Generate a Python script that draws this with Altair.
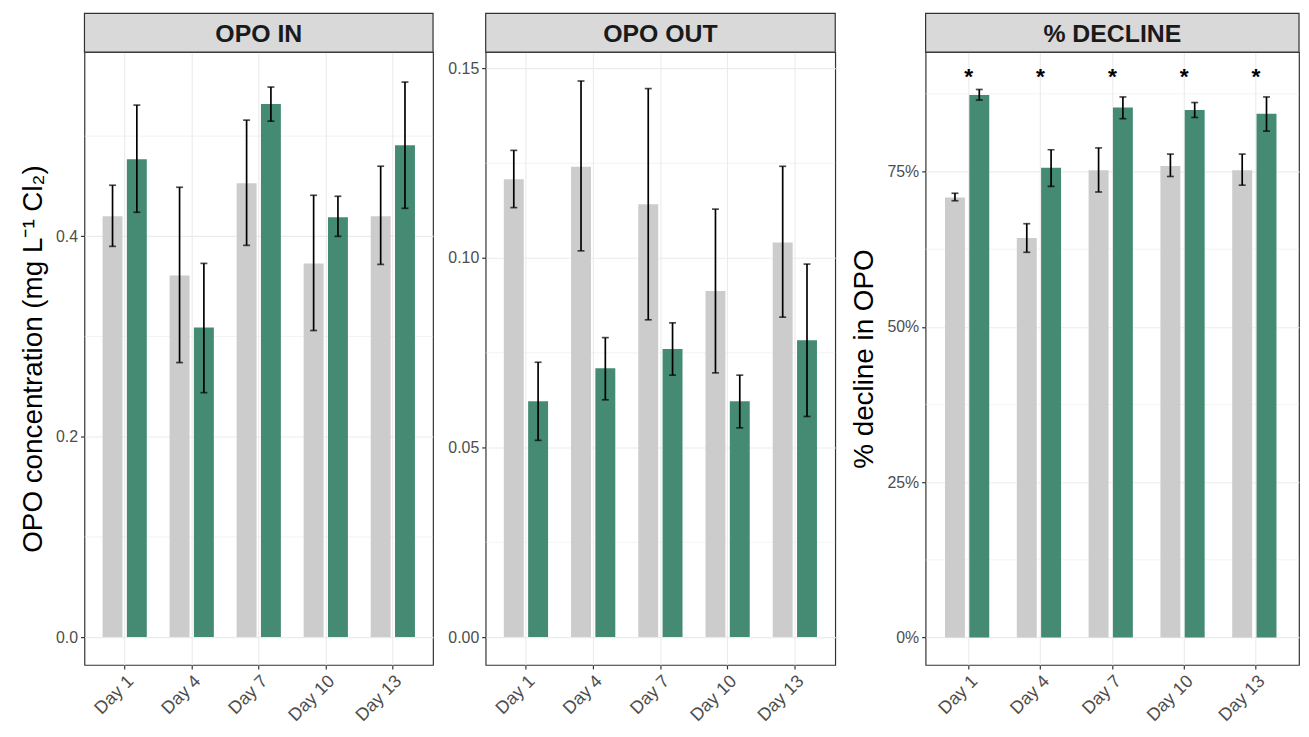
import altair as alt
import pandas as pd

days = ["Day 1", "Day 4", "Day 7", "Day 10", "Day 13"]
groups = ["Control", "Treated"]
group_colors = ["#CCCCCC", "#458B74"]

# OPO IN
in_mean_c = [0.420, 0.361, 0.453, 0.373, 0.420]
in_lo_c = [0.390, 0.274, 0.391, 0.306, 0.372]
in_hi_c = [0.451, 0.449, 0.516, 0.441, 0.470]
in_mean_t = [0.477, 0.309, 0.532, 0.419, 0.491]
in_lo_t = [0.424, 0.244, 0.515, 0.400, 0.428]
in_hi_t = [0.531, 0.373, 0.549, 0.440, 0.554]

# OPO OUT
out_mean_c = [0.1208, 0.1241, 0.1142, 0.0913, 0.1041]
out_lo_c = [0.1133, 0.1019, 0.0837, 0.0697, 0.0844]
out_hi_c = [0.1284, 0.1467, 0.1447, 0.1129, 0.1242]
out_mean_t = [0.0622, 0.0709, 0.0760, 0.0622, 0.0783]
out_lo_t = [0.0519, 0.0626, 0.0691, 0.0552, 0.0582]
out_hi_t = [0.0725, 0.0790, 0.0829, 0.0691, 0.0984]

# % DECLINE
dec_mean_c = [70.8, 64.3, 75.2, 75.9, 75.2]
dec_lo_c = [70.3, 62.0, 71.7, 74.2, 72.8]
dec_hi_c = [71.5, 66.6, 78.8, 77.8, 77.8]
dec_mean_t = [87.3, 75.6, 85.3, 84.9, 84.3]
dec_lo_t = [86.5, 72.6, 83.5, 83.7, 81.5]
dec_hi_t = [88.2, 78.5, 87.0, 86.1, 87.0]
star_labels = ["*", "*", "*", "*", "*"]
star_y = [90.6, 90.6, 90.6, 90.6, 90.6]

FONT = "Liberation Sans"
GRID = "#EBEBEB"
DARK = "#333333"
LABEL = "#4D4D4D"
STRIP_H = 39
PLOT_H = 617


def make_df(mc, lc, hc, mt, lt, ht):
    rows = []
    for i, d in enumerate(days):
        rows.append({"day": d, "group": groups[0], "mean": mc[i], "lo": lc[i], "hi": hc[i]})
        rows.append({"day": d, "group": groups[1], "mean": mt[i], "lo": lt[i], "hi": ht[i]})
    return pd.DataFrame(rows)


def panel(df, width, strip, ydomain, yvalues, minors, ytitle, label_expr, stars=None):
    xaxis = alt.Axis(title=None, labelAngle=-45, labelFontSize=18, labelColor=LABEL,
                     labelFont=FONT, tickColor=DARK, tickSize=4, tickWidth=1.2,
                     domain=False, grid=True, gridColor=GRID, gridWidth=1.1,
                     bandPosition=0.5, labelPadding=3)
    xscale = alt.Scale(paddingInner=0.34, paddingOuter=0.27)
    x = alt.X("day:N", sort=days, scale=xscale, axis=xaxis)
    xo = alt.XOffset("group:N", sort=groups,
                     scale=alt.Scale(paddingInner=0.18, paddingOuter=0))
    yscale = alt.Scale(domain=ydomain, nice=False, zero=False)
    yaxis = alt.Axis(values=yvalues, title=ytitle, titleFontSize=28, titleFont=FONT,
                     titleFontWeight="normal", titleColor="black", titlePadding=8,
                     labelFontSize=16, labelColor=LABEL, labelFont=FONT, labelPadding=3,
                     labelExpr=label_expr,
                     tickColor=DARK, tickSize=4, tickWidth=1.2, domain=False,
                     grid=True, gridColor=GRID, gridWidth=1.1)

    def Y(field):
        return alt.Y(field, scale=yscale, axis=yaxis)

    base = alt.Chart(df)
    minor = alt.Chart(pd.DataFrame({"v": minors})).mark_rule(
        color=GRID, strokeWidth=0.6).encode(y=Y("v:Q"))
    bars = base.mark_bar().encode(
        x=x, xOffset=xo,
        y=Y("mean:Q"),
        y2=alt.datum(0),
        color=alt.Color("group:N", scale=alt.Scale(domain=groups, range=group_colors), legend=None),
    )
    err = base.mark_rule(color="black", strokeWidth=1.7).encode(
        x=x, xOffset=xo, y=Y("lo:Q"), y2="hi:Q")
    cap_lo = base.mark_tick(color="black", size=7, thickness=1.7).encode(
        x=x, xOffset=xo, y=Y("lo:Q"))
    cap_hi = base.mark_tick(color="black", size=7, thickness=1.7).encode(
        x=x, xOffset=xo, y=Y("hi:Q"))
    sdf = pd.DataFrame({"t": [strip]})
    strip_rect = alt.Chart(sdf).mark_rect(fill="#D9D9D9", stroke=DARK, strokeWidth=1.2).encode(
        x=alt.value(0), x2=alt.value(width), y=alt.value(-STRIP_H), y2=alt.value(0))
    strip_text = alt.Chart(sdf).mark_text(
        font=FONT, fontSize=25, fontWeight="bold", color="#1A1A1A", baseline="middle"
    ).encode(x=alt.value(width / 2), y=alt.value(-STRIP_H / 2 + 1), text="t:N")
    layers = [minor, bars, err, cap_lo, cap_hi]
    if stars is not None:
        star = alt.Chart(stars).mark_text(font=FONT, fontSize=23, fontWeight="bold",
                                          color="black", baseline="middle", dy=2).encode(
            x=x, y=Y("y:Q"), text="s:N")
        layers.append(star)
    layers += [strip_rect, strip_text]
    return alt.layer(*layers).properties(width=width, height=PLOT_H)


df_in = make_df(in_mean_c, in_lo_c, in_hi_c, in_mean_t, in_lo_t, in_hi_t)
df_out = make_df(out_mean_c, out_lo_c, out_hi_c, out_mean_t, out_lo_t, out_hi_t)
df_dec = make_df(dec_mean_c, dec_lo_c, dec_hi_c, dec_mean_t, dec_lo_t, dec_hi_t)
df_star = pd.DataFrame({"day": days, "s": star_labels, "y": star_y})

p1 = panel(df_in, 351, "OPO IN", [-0.0278, 0.5838], [0.0, 0.2, 0.4], [0.1, 0.3, 0.5],
           "OPO concentration (mg L⁻¹ Cl₂)", "format(datum.value, '.1f')")
p2 = panel(df_out, 352, "OPO OUT", [-0.00735, 0.1543], [0.0, 0.05, 0.10, 0.15],
           [0.025, 0.075, 0.125], None, "format(datum.value, '.2f')")
p3 = panel(df_dec, 376, "% DECLINE", [-4.4, 94.2], [0, 25, 50, 75], [12.5, 37.5, 62.5, 87.5],
           "% decline in OPO", "datum.value + '%'", stars=df_star)

chart = alt.hconcat(alt.hconcat(p1, p2, spacing=12), p3, spacing=13).properties(
    padding={"left": 11, "top": 1, "right": 0, "bottom": 0}
).configure(font=FONT).configure_view(stroke=DARK, strokeWidth=1.2)

chart.save("out.html", embed_options={"renderer": "svg", "actions": False})
